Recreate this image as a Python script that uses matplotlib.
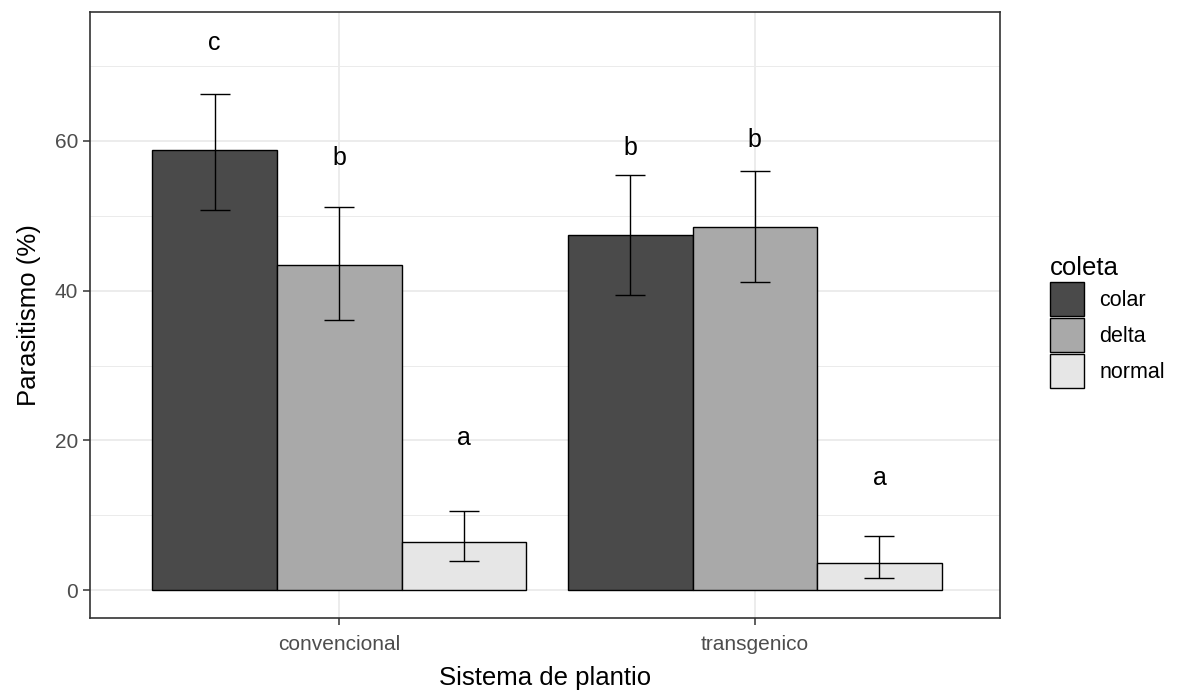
import numpy as np
import matplotlib
matplotlib.use("Agg")
import matplotlib.pyplot as plt
from matplotlib.patches import Patch
from matplotlib.ticker import MultipleLocator

plt.rcParams['font.family'] = ['Liberation Sans', 'DejaVu Sans']

# Data
sistemas = ["convencional", "transgenico"]
coletas = ["colar", "delta", "normal"]
medias = {
    "colar": [58.8, 47.4],
    "delta": [43.4, 48.5],
    "normal": [6.4, 3.6],
}
limite_inf = {
    "colar": [50.8, 39.4],
    "delta": [36.1, 41.2],
    "normal": [3.9, 1.7],
}
limite_sup = {
    "colar": [66.3, 55.4],
    "delta": [51.1, 56.0],
    "normal": [10.6, 7.3],
}
letras = {
    "colar": ["c", "b"],
    "delta": ["b", "b"],
    "normal": ["a", "a"],
}
letra_y = {
    "colar": [73.0, 59.1],
    "delta": [57.7, 60.1],
    "normal": [20.3, 15.0],
}
cores = {"colar": "#4a4a4a", "delta": "#a9a9a9", "normal": "#e6e6e6"}

fig = plt.figure(figsize=(11.83, 6.92), dpi=100)
ax = fig.add_axes([0.0761, 0.1069, 0.8453 - 0.0761, 0.9827 - 0.1069])

x = np.arange(1, len(sistemas) + 1)
largura = 0.3

for i, c in enumerate(coletas):
    pos = x + (i - 1) * largura
    m = np.array(medias[c])
    lo = np.array(limite_inf[c])
    hi = np.array(limite_sup[c])
    ax.bar(pos, m, width=largura, color=cores[c], edgecolor="black",
           linewidth=1.0, zorder=2)
    ax.errorbar(pos, m, yerr=[m - lo, hi - m], fmt="none", ecolor="black",
                elinewidth=1.0, capsize=10.5, capthick=1.0, zorder=3)
    for px, txt, ty in zip(pos, letras[c], letra_y[c]):
        ax.text(px, ty, txt, ha="center", va="center", fontsize=18,
                color="black", zorder=4)

ax.set_xlim(0.4, 2.59)
ax.set_ylim(-3.7, 77.2)
ax.set_xticks(x)
ax.set_xticklabels(sistemas)
ax.yaxis.set_major_locator(MultipleLocator(20))
ax.yaxis.set_minor_locator(MultipleLocator(10))

ax.grid(True, which="major", color="#ebebeb", linewidth=1.3, zorder=0)
ax.grid(True, which="minor", axis="y", color="#ebebeb", linewidth=0.7, zorder=0)
ax.set_axisbelow(True)

for s in ax.spines.values():
    s.set_color("#333333")
    s.set_linewidth(1.2)

ax.tick_params(axis="both", which="major", labelsize=15, labelcolor="#4d4d4d",
               color="#333333", length=5, width=1.1)
ax.tick_params(axis="x", which="major", pad=7)
ax.tick_params(axis="y", which="minor", length=0)

ax.set_xlabel("Sistema de plantio", fontsize=18.5, labelpad=9)
ax.set_ylabel("Parasitismo (%)", fontsize=18.5, labelpad=10)

handles = [Patch(facecolor=cores[c], edgecolor="black", linewidth=1.0) for c in coletas]
leg = fig.legend(handles, coletas, title="coleta", loc="center left",
                 bbox_to_anchor=(0.871, 0.535), frameon=False, fontsize=15.5,
                 title_fontsize=18.5, handlelength=1.6, handleheight=2.05,
                 labelspacing=0.1, handletextpad=0.7)
leg._legend_box.align = "left"

fig.savefig("out.png", dpi=100)
